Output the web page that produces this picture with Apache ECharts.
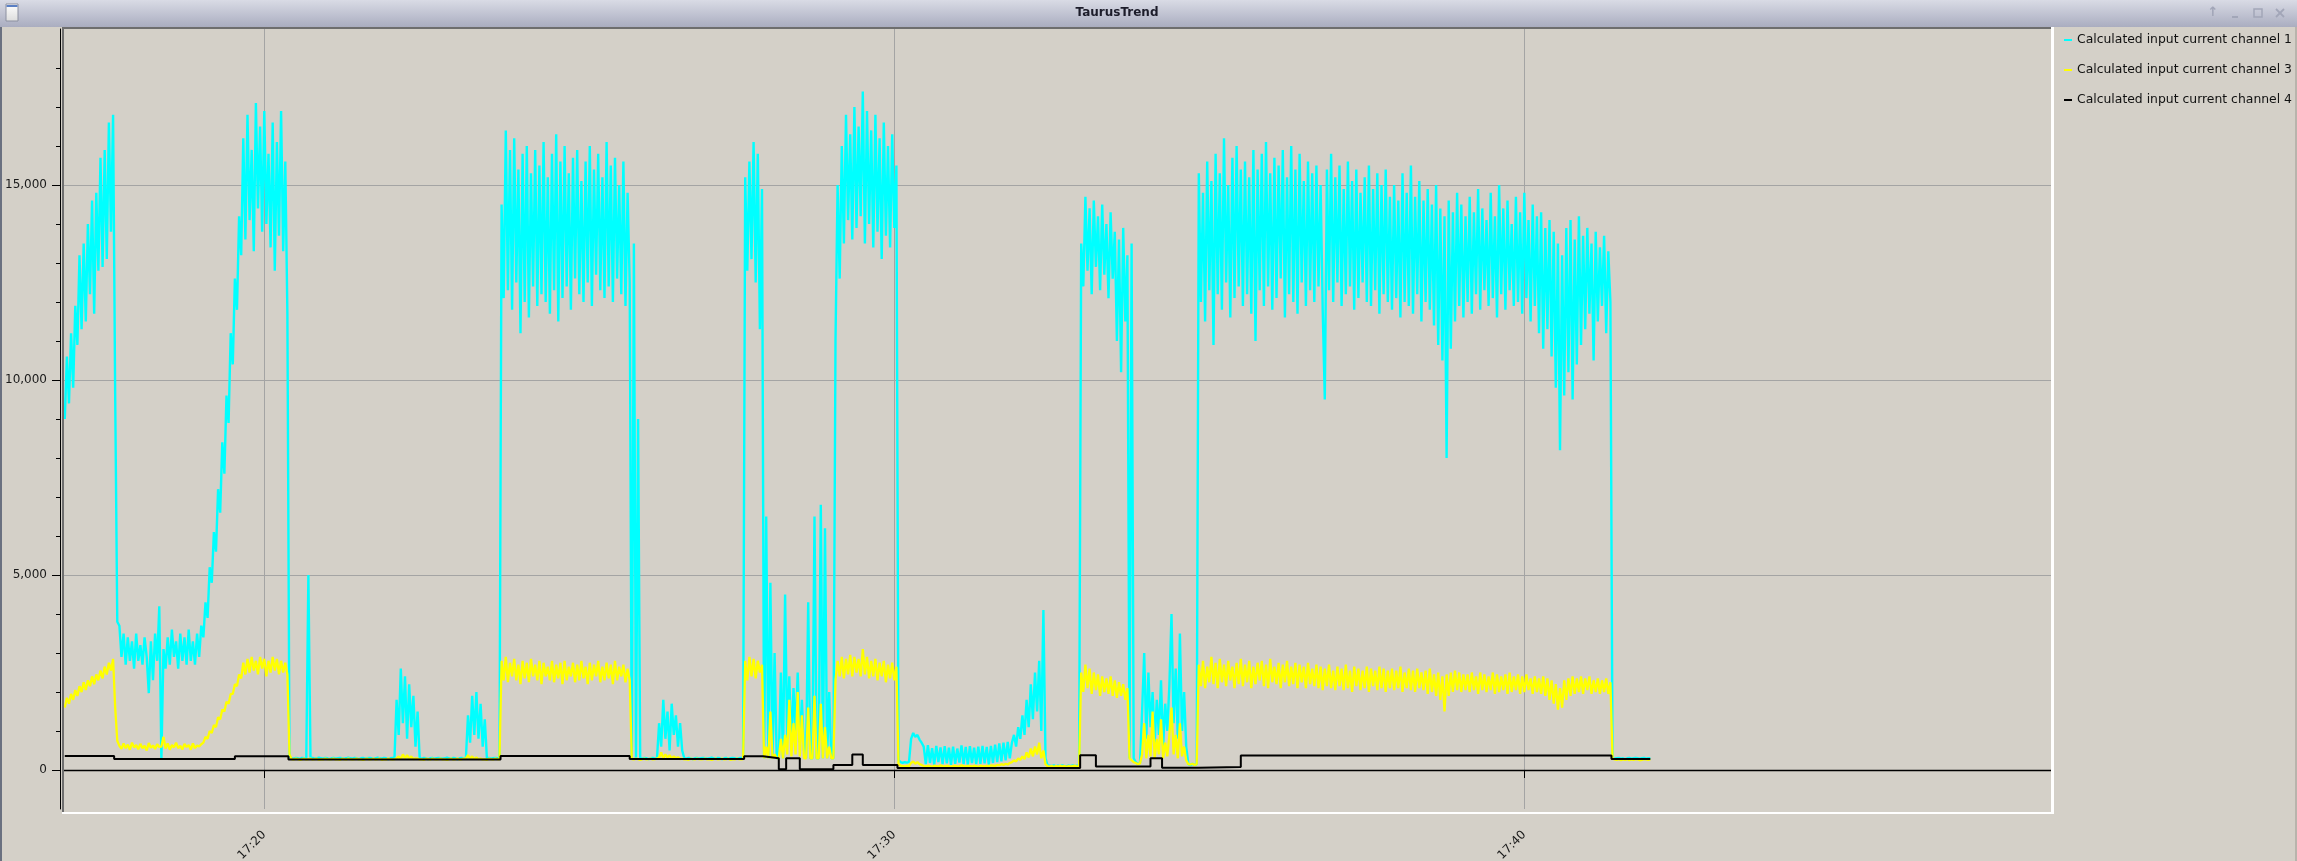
<!DOCTYPE html>
<html><head><meta charset="utf-8">
<script src="https://cdn.jsdelivr.net/npm/echarts@6/dist/echarts.min.js"></script>
<style>html,body{margin:0;padding:0;background:#d4d0c8;overflow:hidden}#c{width:2297px;height:861px}</style>
</head><body><div id="c"></div>
<script>
// ---------------- DATA ----------------
const seriesNames = ['Calculated input current channel 1', 'Calculated input current channel 3', 'Calculated input current channel 4'];
const sampleStart = '17:16:50';   // first sample time
const sampleStep = 2;              // seconds between samples
const xTickLabels = ['17:20', '17:30', '17:40'];
const yMajorTicks = [0, 5000, 10000, 15000];
const yMinorTicks = [1000, 2000, 3000, 4000, 6000, 7000, 8000, 9000, 11000, 12000, 13000, 14000, 16000, 17000, 18000];

// channel 1 (cyan)
const ch1 = [
9000,10600,9400,11200,9800,11900,10900,13200,11300,13500,11500,14000,12200,14600,11700,14800,12800,15700,12900,15900,13100,16600,13800,16800,
9600,3800,
3700,2900,3500,2700,3400,2800,3300,2600,3500,2800,3200,2700,3400,2900,1970,3300,2300,3500,2800,4200,260,3100,2600,3400,2700,3600,2900,3300,2600,3500,2800,3400,2700,3600,2800,3300,2700,3500,2900,3700,
3400,4300,3900,5200,4800,6100,5600,7200,6600,8400,7600,9600,8900,11200,10400,12600,11800,14200,13200,
16200,13600,16800,14100,15900,13300,17100,14400,16500,13800,16900,14000,15800,13400,16600,12800,16100,13700,16900,13300,15600,11700,
350,300,290,310,300,280,310,300,290,5000,
300,310,290,300,320,300,290,310,300,280,300,310,290,300,310,300,290,300,320,300,290,310,300,280,300,310,290,300,310,300,290,300,320,300,290,310,300,280,300,310,300,
1800,900,2600,1200,2400,800,2200,1100,1900,600,1500,
300,290,310,300,280,300,310,290,300,310,300,290,300,320,300,290,310,300,280,300,310,290,300,
1400,700,1900,900,2000,800,1700,600,1300,
300,310,290,300,310,300,290,
14500,12100,16400,12300,15900,11800,16200,12500,15400,11200,15800,12000,16000,11600,15300,12400,15900,11900,15500,12200,
16100,12000,15200,11700,15800,12300,16300,11500,15600,12100,16000,12400,15300,11800,15700,12600,15900,12200,15100,12000,
15600,12500,16000,11900,15400,12700,15800,12300,15200,12100,16100,12400,15500,12000,15700,12600,15000,12200,15600,11900,14800,12500,
300,13500,300,9000,
300,290,310,300,280,300,310,290,300,
1200,600,1800,800,1500,500,1700,900,1400,600,1200,500,300,
290,310,300,280,300,310,290,300,310,300,290,300,320,300,290,310,300,280,300,310,290,300,310,300,290,300,310,300,
15200,12800,15600,13100,16100,12500,15800,11300,14900,
300,6500,300,4800,300,3000,300,300,2500,300,4500,800,2400,600,2100,1000,2500,700,1800,500,300,4300,300,300,6500,300,300,6800,300,6200,300,2000,300,300,
11000,15000,12600,16000,13500,16800,14100,16300,13600,17000,13900,16500,14200,17400,13500,16900,14000,16400,13400,16800,13800,16200,13100,16600,13700,16000,13400,16300,13900,15500,
250,200,180,200,190,210,
800,950,850,900,780,700,
600,150,640,180,560,140,620,200,580,150,610,170,570,130,600,160,550,190,630,150,590,140,610,180,570,150,600,160,620,170,590,140,620,180,650,200,680,220,700,250,720,300,
700,900,600,1100,800,1400,900,1800,1100,2200,1300,2500,1500,2800,1000,4100,300,120,
110,100,120,90,110,100,120,100,90,110,100,120,100,110,100,
13500,12400,14700,12800,14400,12200,14600,12900,14200,12300,14500,12700,14000,12100,14300,12600,13800,11000,13600,10200,13900,11500,13200,
300,13500,300,
200,150,180,
1500,3000,800,2500,1100,2000,700,1800,900,2300,600,1700,1000,2200,4000,1200,2600,800,3500,1000,2000,600,
150,120,160,130,150,
15300,12000,14800,11500,15600,12300,15100,10900,15800,12200,15300,11800,16200,12500,15000,11600,15700,12100,16000,12400,
15400,11900,15600,12200,15200,11700,15900,11000,15400,12300,15800,11900,16100,12400,15300,11800,15700,12100,15500,12600,
15900,11600,15200,12200,16000,12000,15400,11700,15800,12500,15100,11900,15600,12300,15300,12000,15500,12400,
15000,11800,9500,15400,12300,15800,12000,15200,12500,15500,11900,14900,12200,15600,12400,15100,11800,15400,12100,14800,
12500,15200,12000,15500,11900,14900,12300,15300,11700,15000,12200,15400,12000,14700,11800,
15000,12100,14600,11600,15300,12000,14800,11900,15500,11700,14700,12200,15100,11500,14600,12000,14900,11800,14500,11400,
15000,10900,14400,10500,14200,8000,14600,10800,14300,11500,14800,11900,14500,11600,14200,
12000,14700,11700,14300,12200,14900,11800,14400,12300,14100,11900,14800,12100,14200,11600,15000,12200,14400,11800,14600,
12300,14000,11900,14700,12000,14300,11700,14800,12100,14100,11500,14500,11900,14200,11200,
14300,10800,13900,11300,14100,10600,13800,9800,13500,8200,13200,9600,13900,10200,14100,9500,13600,10400,14200,10900,
13700,11300,13900,11700,13500,10500,13800,11500,13400,11900,13700,11200,13300,12000,
300,290,300,310,290,300,280,300,310,290,300,310,300,290,300,310,290,300,300
];

// channel 3 (yellow)
const ch3 = [
1600,1850,1700,1950,1800,2050,1900,2150,2000,2250,2050,2300,2150,2400,2200,2450,2300,2550,2350,2650,2450,2750,2550,2850,
1600,750,
620,540,680,560,650,520,700,580,640,530,670,560,620,500,690,570,630,540,660,590,600,850,550,680,520,640,580,700,560,620,530,670,590,640,520,680,560,630,600,660,
700,850,800,1000,950,1150,1100,1350,1300,1550,1500,1750,1700,1950,1950,2200,2150,2450,2350,
2750,2450,2850,2500,2900,2550,2800,2450,2900,2600,2850,2400,2800,2500,2900,2550,2850,2450,2800,2500,2750,2450,
400,
280,270,290,280,260,280,290,270,280,290,
270,280,290,260,280,270,290,280,270,280,
290,270,280,260,290,280,270,290,280,270,
280,290,270,280,260,280,290,270,280,290,
270,280,290,260,280,270,290,280,270,280,
300,350,280,400,300,380,290,350,280,300,
290,270,280,260,290,280,270,290,280,270,
280,290,270,280,260,280,290,270,280,290,
270,280,290,300,380,290,350,280,320,280,
290,270,280,260,290,280,270,290,280,270,
2800,2300,2900,2250,2750,2400,2850,2300,2700,2200,2800,2350,2750,2250,2850,2400,2700,2300,2800,2200,
2750,2400,2650,2300,2800,2250,2700,2350,2750,2200,2800,2300,2650,2400,2750,2250,2700,2300,2800,2350,
2650,2200,2750,2300,2700,2400,2800,2250,2650,2300,2750,2350,2700,2200,2800,2300,2650,2400,2700,2250,2600,2300,
280,270,290,280,260,280,290,270,280,290,
270,280,290,320,450,300,400,320,380,290,
350,300,330,280,290,270,280,260,290,280,
270,290,280,270,280,290,270,280,260,280,
290,270,280,290,270,280,290,260,280,270,
290,280,270,280,
2800,2300,2900,2400,2850,2350,2800,2500,2700,
300,600,300,1500,300,400,300,300,800,300,900,400,1800,350,1200,400,2000,350,1400,300,300,1600,300,300,1900,300,300,1700,300,1100,300,600,300,300,
2300,2800,2400,2900,2350,2850,2450,2950,2400,2900,2500,2850,2400,3100,2450,2900,2350,2800,2400,2850,2300,2750,2400,2800,2250,2700,2350,2750,2300,2650,
150,110,100,90,110,100,
180,220,160,200,150,130,
100,90,110,100,80,110,100,90,120,100,90,110,100,80,100,110,90,100,120,100,90,110,100,90,110,100,80,110,100,90,110,100,120,110,100,130,120,150,130,160,140,180,
200,250,220,300,260,350,280,450,320,550,350,600,400,700,300,500,150,100,
90,100,80,100,90,110,90,100,80,100,90,100,110,90,100,
2500,2000,2700,2100,2600,1950,2500,2050,2450,1900,2400,2000,2350,1950,2400,1900,2300,1850,2250,1900,2200,1800,2100,
300,250,200,180,150,170,
400,1200,300,900,350,1500,300,800,400,1300,300,700,350,900,1600,400,900,300,1200,350,600,250,
150,140,160,130,150,
2700,2150,2800,2100,2650,2250,2900,2200,2750,2100,2850,2250,2700,2150,2800,2300,2650,2100,2750,2200,
2850,2150,2700,2250,2800,2100,2650,2200,2750,2300,2800,2150,2700,2100,2850,2250,2650,2200,2750,2100,
2700,2250,2800,2150,2650,2200,2750,2100,2700,2250,2650,2100,2750,2200,2600,2150,2700,2100,
2650,2050,2600,2150,2700,2100,2550,2050,2650,2150,2600,2050,2700,2100,2550,2000,2650,2150,2600,2050,
2550,2100,2650,2000,2600,2150,2550,2050,2650,2100,2600,2000,2550,2100,2600,
2050,2550,2100,2650,2000,2500,2100,2600,2050,2550,2000,2600,2100,2500,2050,2550,1950,2600,2000,2450,
1900,2500,1800,2400,1500,2450,1900,2500,2000,2550,2050,2500,2000,2450,2050,
2450,2000,2500,2050,2400,1950,2500,2050,2450,2000,2400,2050,2500,1950,2450,2000,2400,2050,2450,1950,
2500,2000,2400,2050,2450,1950,2400,2000,2450,2050,2350,1950,2400,2000,2350,
1950,2400,1900,2350,1800,2300,1700,2200,1550,2100,1600,2300,1800,2350,1900,2400,1950,2350,2000,2400,
1950,2350,2050,2400,1950,2300,2000,2350,1950,2300,2000,2350,1950,2250,
300,270,260,280,250,270,260,280,250,270,260,280,270,250,260,280,270,260,270
];

// channel 4 (black) – stepped level changes [time, value]
const ch4Steps = [
['17:16:50', 360], ['17:17:37', 280], ['17:19:32', 350], ['17:20:23', 270],
['17:23:45', 360], ['17:25:48', 280], ['17:27:37', 350], ['17:27:55', 300],
['17:28:10', 20], ['17:28:17', 300], ['17:28:30', 20], ['17:29:02', 130],
['17:29:20', 400], ['17:29:30', 130], ['17:30:03', 50], ['17:32:57', 380],
['17:33:12', 90], ['17:34:04', 300], ['17:34:15', 60], ['17:34:50', 80],
['17:35:30', 370], ['17:41:23', 280], ['17:42:00', 280]
];

// ---------------- CHART ----------------
function toSec(s) { const p = s.split(':').map(Number); return p[0] * 3600 + p[1] * 60 + (p[2] || 0); }
const t0 = toSec(sampleStart);
const xTicks = xTickLabels.map(toSec);
const X_MIN = 62208.3, X_MAX = 64101.6;
const FONT = 'DejaVu Sans';
const colors = ['#00ffff', '#ffff00', '#000000'];

const chart = echarts.init(document.getElementById('c'), null, { renderer: 'canvas' });
const grey = '#a2a6b8';
chart.setOption({
  animation: false,
  backgroundColor: '#d4d0c8',
  textStyle: { fontFamily: FONT },
  grid: { left: 63, right: 246, top: 29, bottom: 52, outerBoundsMode: 'none', containLabel: false },
  legend: {
    orient: 'vertical', left: 2059, top: 28, icon: 'rect', itemWidth: 8, itemHeight: 2, itemGap: 16,
    selectedMode: false, data: seriesNames,
    textStyle: { fontFamily: FONT, fontSize: 12.4, color: '#111', lineHeight: 14 }
  },
  xAxis: {
    type: 'value', min: X_MIN, max: X_MAX, offset: 8,
    axisLine: { show: true, lineStyle: { color: '#000', width: 1.3 } },
    axisTick: { show: true, customValues: xTicks, length: 8, lineStyle: { color: '#000', width: 1 } },
    axisLabel: {
      customValues: xTicks, rotate: 45, margin: 16, fontSize: 12, fontFamily: FONT, color: '#1a1a1a',
      formatter: v => Math.floor(v / 3600) + ':' + String(Math.floor((v % 3600) / 60)).padStart(2, '0')
    },
    splitLine: { show: true, lineStyle: { color: '#a4a4a4', width: 1 } },
    minorTick: { show: false }
  },
  yAxis: [
    {
      type: 'value', min: -1000, max: 19000, position: 'left', offset: 3,
      axisLine: { show: true, lineStyle: { color: '#000', width: 1 } },
      axisTick: { show: true, customValues: yMajorTicks, length: 8, lineStyle: { color: '#000' } },
      axisLabel: { customValues: yMajorTicks, margin: 13, fontSize: 12, fontFamily: FONT, color: '#1a1a1a',
        formatter: v => Number(v).toLocaleString('en-US') },
      splitLine: { show: true, lineStyle: { color: '#a4a4a4', width: 1 } }
    },
    {
      type: 'value', min: -1000, max: 19000, position: 'left', offset: 3,
      axisLine: { show: false },
      axisTick: { show: true, customValues: yMinorTicks, length: 4, lineStyle: { color: '#000' } },
      axisLabel: { show: false },
      splitLine: { show: false }
    }
  ],
  series: [
    { name: seriesNames[0], type: 'line', showSymbol: false, symbol: 'none', silent: true,
      itemStyle: { color: colors[0] }, lineStyle: { color: colors[0], width: 2.4 },
      data: ch1.map((v, i) => [t0 + i * sampleStep, v]) },
    { name: seriesNames[1], type: 'line', showSymbol: false, symbol: 'none', silent: true,
      itemStyle: { color: colors[1] }, lineStyle: { color: colors[1], width: 2.3 },
      data: ch3.map((v, i) => [t0 + i * sampleStep, v]) },
    { name: seriesNames[2], type: 'line', step: 'end', showSymbol: false, symbol: 'none', silent: true,
      itemStyle: { color: colors[2] }, lineStyle: { color: colors[2], width: 2 },
      data: ch4Steps.map(([t, v]) => [toSec(t), v]) }
  ],
  graphic: [
    { type: 'rect', silent: true, z: 100, shape: { x: 0, y: 0, width: 2297, height: 27 },
      style: { fill: new echarts.graphic.LinearGradient(0, 0, 0, 1, [{ offset: 0, color: '#d9dbe5' }, { offset: 1, color: '#aaadc0' }]) } },
    { type: 'text', silent: true, z: 101, x: 1117, y: 13,
      style: { text: 'TaurusTrend', font: 'bold 12px "DejaVu Sans"', fill: '#1c1c2a', align: 'center', verticalAlign: 'middle' } },
    { type: 'rect', silent: true, z: 101, shape: { x: 6, y: 4, width: 12, height: 17 },
      style: { fill: new echarts.graphic.LinearGradient(0, 0, 0, 1, [{ offset: 0, color: '#ffffff' }, { offset: 1, color: '#dcdcdc' }]), stroke: '#8c90a0', lineWidth: 1 } },
    { type: 'rect', silent: true, z: 102, shape: { x: 6.5, y: 5, width: 11, height: 2 }, style: { fill: '#5a7fc4' } },
    { type: 'text', silent: true, z: 101, x: 2213, y: 13, style: { text: '↑', font: 'bold 13px "DejaVu Sans"', fill: grey, align: 'center', verticalAlign: 'middle' } },
    { type: 'rect', silent: true, z: 101, shape: { x: 2232, y: 16, width: 6, height: 2 }, style: { fill: grey } },
    { type: 'rect', silent: true, z: 101, shape: { x: 2254, y: 9, width: 8, height: 8 }, style: { fill: 'none', stroke: grey, lineWidth: 1.5 } },
    { type: 'line', silent: true, z: 101, shape: { x1: 2276, y1: 9, x2: 2284, y2: 17 }, style: { stroke: grey, lineWidth: 1.8 } },
    { type: 'line', silent: true, z: 101, shape: { x1: 2284, y1: 9, x2: 2276, y2: 17 }, style: { stroke: grey, lineWidth: 1.8 } },
    { type: 'rect', silent: true, z: 100, shape: { x: 0, y: 27, width: 2, height: 834 }, style: { fill: '#6a7080' } },
    { type: 'rect', silent: true, z: 100, shape: { x: 2295, y: 27, width: 2, height: 834 }, style: { fill: '#b8b4ac' } },
    // sunken canvas frame
    { type: 'rect', silent: true, z: 90, shape: { x: 62, y: 27, width: 1990, height: 2 }, style: { fill: '#6e6e6e' } },
    { type: 'rect', silent: true, z: 90, shape: { x: 62, y: 27, width: 2, height: 787 }, style: { fill: '#6e6e6e' } },
    { type: 'rect', silent: true, z: 90, shape: { x: 62, y: 812, width: 1992, height: 2 }, style: { fill: '#ffffff' } },
    { type: 'rect', silent: true, z: 90, shape: { x: 2051, y: 27, width: 3, height: 787 }, style: { fill: '#ffffff' } }
  ]
});
</script>
</body></html>
